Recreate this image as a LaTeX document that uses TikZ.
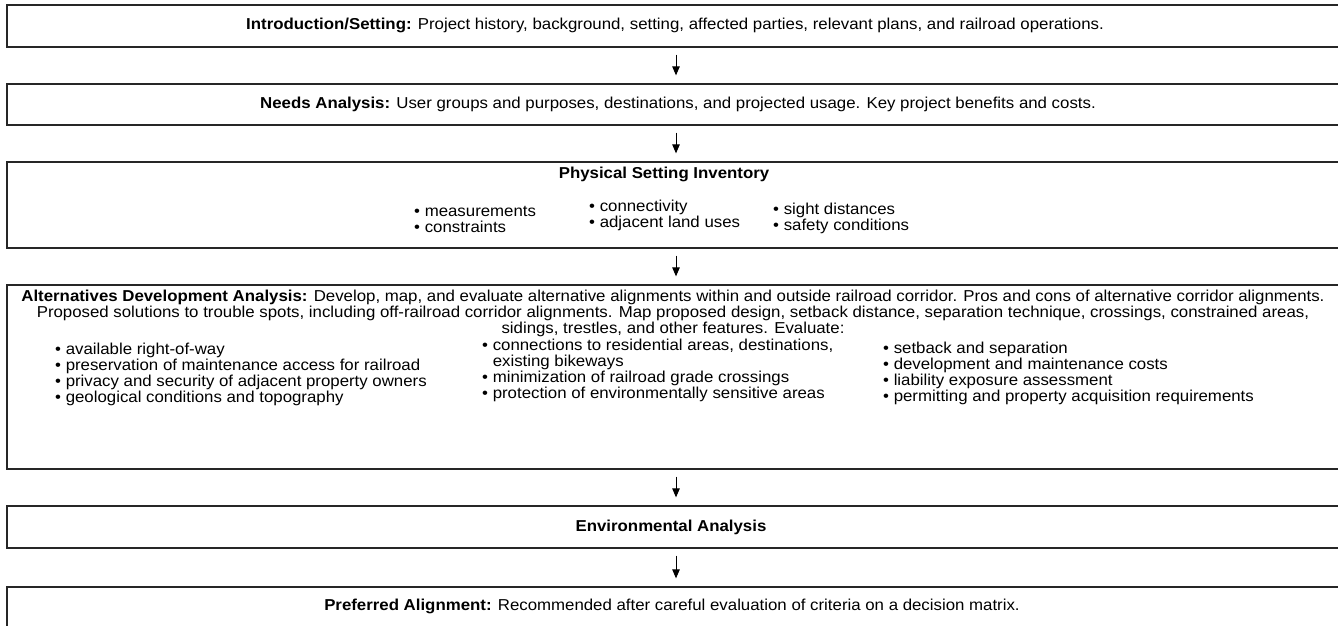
\documentclass[tikz,border=0pt]{standalone}
\usepackage{fontspec}
\setmainfont[FakeStretch=1.065]{Liberation Sans}
\usetikzlibrary{arrows.meta}
\tikzset{
  box/.style={draw=black!85, line width=1.3pt, minimum width=1338pt, inner sep=0pt},
  txt/.style={inner sep=0pt, font=\fontsize{15.8}{16}\selectfont},
  col/.style={txt, anchor=west, align=left},
  arr/.style={draw=black, line width=1pt, -{Triangle[length=9pt,width=7.5pt]}}
}
\begin{document}
\begin{tikzpicture}[x=1pt,y=-1pt]
\useasboundingbox (0,0) rectangle (1338,625);
% boxes
\node[box, minimum height=42pt] (b1) at (676,26) {};
\node[box, minimum height=41pt] (b2) at (676,104.5) {};
\node[box, minimum height=86pt] (b3) at (676,205) {};
\node[box, minimum height=184pt] (b4) at (676,377) {};
\node[box, minimum height=42pt] (b5) at (676,527) {};
\node[box, minimum height=42pt] (b6) at (676,608) {};
% arrows
\draw[arr] ([yshift=-7pt]b1.south) -- ([yshift=8pt]b2.north);
\draw[arr] ([yshift=-7pt]b2.south) -- ([yshift=8pt]b3.north);
\draw[arr] ([yshift=-7pt]b3.south) -- ([yshift=8pt]b4.north);
\draw[arr] ([yshift=-7pt]b4.south) -- ([yshift=8pt]b5.north);
\draw[arr] ([yshift=-7pt]b5.south) -- ([yshift=8pt]b6.north);
% texts
\node[txt] (t1) at (675,25) {\textbf{Introduction/Setting:} Project history, background, setting, affected parties, relevant plans, and railroad operations.};
\node[txt] (t2) at (678,104) {\textbf{Needs Analysis:} User groups and purposes, destinations, and projected usage. Key project benefits and costs.};
\node[txt] (t3) at (664,174) {\textbf{Physical Setting Inventory}};
\node[col] (c31) at (414,219) {• measurements\\• constraints};
\node[col] (c32) at (589,215.5) {• connectivity\\• adjacent land uses};
\node[col] (c33) at (773,218) {• sight distances\\• safety conditions};
\node[txt, align=center] (t4) at (673,313) {\textbf{Alternatives Development Analysis:} Develop, map, and evaluate alternative alignments within and outside railroad corridor. Pros and cons of alternative corridor alignments.\\
Proposed solutions to trouble spots, including off-railroad corridor alignments. Map proposed design, setback distance, separation technique, crossings, constrained areas,\\
sidings, trestles, and other features. Evaluate:};
\node[col] (c41) at (55,374) {• available right-of-way\\• preservation of maintenance access for railroad\\• privacy and security of adjacent property owners\\• geological conditions and topography};
\node[col] (c42) at (482,370) {• connections to residential areas, destinations,\\\phantom{• }existing bikeways\\• minimization of railroad grade crossings\\• protection of environmentally sensitive areas};
\node[col] (c43) at (883,373) {• setback and separation\\• development and maintenance costs\\• liability exposure assessment\\• permitting and property acquisition requirements};
\node[txt] (t5) at (671,527) {\textbf{Environmental Analysis}};
\node[txt] (t6) at (672,606) {\textbf{Preferred Alignment:} Recommended after careful evaluation of criteria on a decision matrix.};
\end{tikzpicture}
\end{document}
